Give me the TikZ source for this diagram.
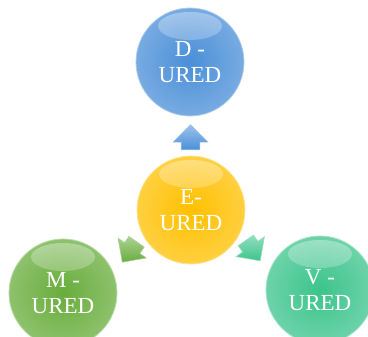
\documentclass[tikz,border=0pt]{standalone}
\usepackage{fontspec}
\setmainfont{Liberation Serif}
\usetikzlibrary{shapes.arrows,calc}

\definecolor{dblue}{HTML}{4A8FD8}
\definecolor{eyel}{HTML}{FFC000}
\definecolor{mgreen}{HTML}{68AD3C}
\definecolor{vteal}{HTML}{3CC48B}

\tikzset{
    bubble/.style={circle, minimum size=108pt, inner sep=0pt, align=center,
        text=white, font=\fontsize{23}{26}\selectfont,
        inner color=#1, outer color=#1!75!white,
        draw=#1!45!white, line width=0.8pt,
        path picture={\shade[top color=white, bottom color=#1, fill opacity=0.35]
            ([yshift=36pt]path picture bounding box.center) ellipse (32pt and 14pt);}},
    blockarrow/.style={single arrow, minimum height=25pt,
        inner xsep=0pt, inner ysep=9pt, single arrow head extend=8pt,
        draw=#1!55!white, line width=0.6pt,
        top color=#1!55!white, bottom color=#1}
}

\begin{document}
\begin{tikzpicture}[x=1pt, y=1pt]
        \useasboundingbox (0,0) rectangle (368,337);
        \node[bubble=dblue] (d) at (190,275) {D -\\URED};
        \node[bubble=eyel] (e) at (191,127) {E-\\URED};
        \node[bubble=mgreen] (m) at (63,44) {M -\\URED};
        \node[bubble=vteal] (v) at (320,47) {V -\\URED};
        \foreach \from/\to/\ang/\col in {e/d/90/dblue, e/m/235/mgreen, e/v/305/vteal} {
            \node[blockarrow=\col, rotate=\ang] (\from\to) at ($(\from)!0.46!(\to)$) {};
        }
    \end{tikzpicture}
\end{document}
